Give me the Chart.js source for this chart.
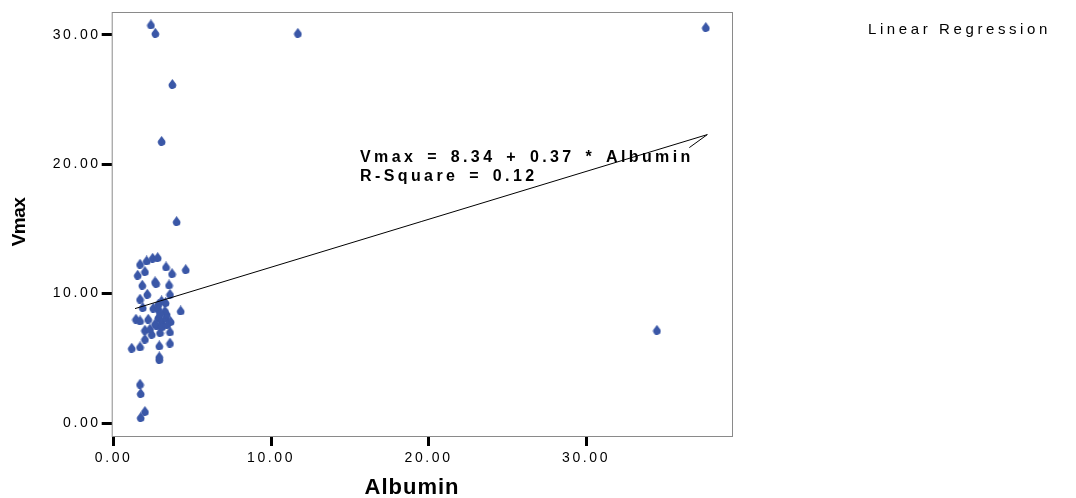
<!DOCTYPE html>
<html>
<head>
<meta charset="utf-8">
<script src="https://cdn.jsdelivr.net/npm/chart.js@4.4.1/dist/chart.umd.min.js"></script>
<style>
  html, body { margin: 0; padding: 0; background: #fff; }
  #wrap { width: 1076px; height: 498px; position: relative; }
</style>
</head>
<body>
<div id="wrap"><canvas id="chart"></canvas></div>
<script>
// Albumin / Vmax pairs
const albumin = [1.68, 2.10, 2.48, 2.80, 3.33, 4.58, 1.99, 1.53, 3.71, 2.63, 2.70, 1.82, 3.52,
    2.14, 3.58, 1.68, 3.05, 1.85, 2.52, 2.84, 3.30, 4.26, 1.42, 1.68, 2.20, 2.84, 3.05, 3.33,
    3.62, 3.37, 2.74, 1.99, 2.42, 2.95, 3.58, 1.99, 1.68, 1.15, 2.90, 3.58, 2.90, 2.90, 1.68,
    1.72, 1.99, 1.72, 2.84, 3.26, 2.95, 2.63, 3.07, 3.39, 2.31,
    2.37, 2.65, 3.73, 3.05, 4.00, 11.7, 37.6, 34.5];
const vmax = [12.31, 12.56, 12.77, 12.82, 12.10, 11.89, 11.74, 11.46, 11.58, 10.95, 10.82, 10.69, 10.71,
    9.99, 9.99, 9.61, 9.47, 8.96, 8.91, 9.22, 9.34, 8.70, 8.06, 7.93, 8.06, 8.19, 7.88, 8.19,
    7.88, 8.45, 7.54, 7.21, 6.90, 7.03, 7.08, 6.52, 5.92, 5.82, 6.00, 6.21, 5.15, 4.94, 3.04,
    2.32, 0.93, 0.46, 8.83, 8.70, 8.47, 7.70, 7.47, 7.62, 7.31,
    30.8, 30.15, 26.2, 21.8, 15.6, 30.15, 30.6, 7.2];

// Fit from the SPSS output
const intercept = 8.34;
const slope = 0.37;
const fitRange = [1.36, 37.7];
const equationLines = ['Vmax = 8.34 + 0.37 * Albumin', 'R-Square = 0.12'];

const points = albumin.map((a, i) => ({ x: a, y: vmax[i] }));
const fitPoints = fitRange.map(a => ({ x: a, y: intercept + slope * a }));

// droplet marker like the SPSS one
function makeDrop(color) {
    const c = document.createElement('canvas');
    c.width = 9; c.height = 10;
    const g = c.getContext('2d');
    g.fillStyle = color;
    g.beginPath();
    g.moveTo(4.5, 0);
    g.lineTo(8.2, 5);
    g.arc(4.5, 6.2, 3.8, -0.3, Math.PI + 0.3);
    g.closePath();
    g.fill();
    return c;
}
const drop = makeDrop('#3a57a7');

const FONT = 'Liberation Sans, Arial, sans-serif';

const decorPlugin = {
    id: 'decor',
    beforeDraw(chart) {
        chart.ctx.letterSpacing = '2.6px';
    },
    afterDraw(chart) {
        const ctx = chart.ctx;
        const area = chart.chartArea;
        const xs = chart.scales.x, ys = chart.scales.y;
        ctx.save();
        // frame
        ctx.strokeStyle = '#8a8a8a';
        ctx.lineWidth = 1;
        ctx.strokeRect(area.left + 0.5, area.top + 0.5, area.right - area.left - 1, area.bottom - area.top);

        // leader line from equation to the fit end
        const endX = xs.getPixelForValue(fitPoints[1].x);
        const endY = ys.getPixelForValue(fitPoints[1].y);
        ctx.strokeStyle = '#000';
        ctx.beginPath();
        ctx.moveTo(endX, endY);
        ctx.lineTo(endX - 18, endY + 13);
        ctx.stroke();

        // equation text
        ctx.fillStyle = '#000';
        ctx.letterSpacing = '3.4px';
        ctx.wordSpacing = '3px';
        ctx.font = 'bold 16px ' + FONT;
        ctx.textAlign = 'left';
        ctx.textBaseline = 'middle';
        ctx.fillText(equationLines[0], 360, 158);
        ctx.fillText(equationLines[1], 360, 177);
        ctx.wordSpacing = '0px';

        // legend title
        ctx.font = '15px ' + FONT;
        ctx.letterSpacing = '3.6px';
        ctx.fillText('Linear Regression', 868, 30);

        // axis titles
        ctx.letterSpacing = '1px';
        ctx.font = 'bold 22px ' + FONT;
        ctx.textAlign = 'center';
        ctx.fillText('Albumin', 412, 488);
        ctx.translate(20, 222);
        ctx.rotate(-Math.PI / 2);
        ctx.letterSpacing = '-0.5px';
        ctx.font = 'bold 19px ' + FONT;
        ctx.fillText('Vmax', 0, 0);
        ctx.restore();
    }
};

window.addEventListener('DOMContentLoaded', function() {
    const ctx = document.getElementById('chart').getContext('2d');
    new Chart(ctx, {
        type: 'scatter',
        data: {
            datasets: [{
                data: points,
                pointStyle: drop,
                pointRadius: 5,
                order: 2
            }, {
                type: 'line',
                data: fitPoints,
                borderColor: '#000',
                borderWidth: 1,
                pointRadius: 0,
                fill: false,
                order: 1
            }]
        },
        options: {
            responsive: true,
            maintainAspectRatio: false,
            animation: false,
            layout: { padding: { top: 12, right: 343, left: 0, bottom: 0 } },
            plugins: {
                legend: { display: false },
                tooltip: { enabled: false }
            },
            scales: {
                x: {
                    type: 'linear',
                    min: -0.12,
                    max: 39.33,
                    border: { display: false },
                    grid: { drawOnChartArea: false, drawTicks: true, tickLength: 10, tickWidth: 3, tickColor: '#000' },
                    ticks: {
                        stepSize: 10,
                        includeBounds: false,
                        padding: 4,
                        maxRotation: 0,
                        color: '#000',
                        font: { family: FONT, size: 14 },
                        callback: v => v.toFixed(2)
                    },
                    afterFit(scale) { scale.height = 62; }
                },
                y: {
                    type: 'linear',
                    min: -1.0,
                    max: 31.76,
                    border: { display: false },
                    grid: { drawOnChartArea: false, drawTicks: true, tickLength: 10, tickWidth: 3, tickColor: '#000' },
                    ticks: {
                        stepSize: 10,
                        includeBounds: false,
                        padding: 1,
                        color: '#000',
                        font: { family: FONT, size: 14 },
                        callback: v => v.toFixed(2)
                    },
                    afterFit(scale) { scale.width = 111.7; }
                }
            }
        },
        plugins: [decorPlugin]
    });
});
</script>
</body>
</html>
